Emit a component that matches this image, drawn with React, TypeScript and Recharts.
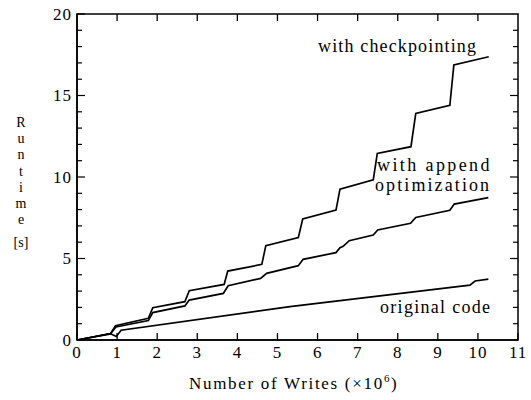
import React from "react";
import { LineChart, Line, XAxis, YAxis, ReferenceArea, ReferenceLine } from "recharts";

const checkpointX = [0, 0.84, 0.96, 1.78, 1.89, 2.69, 2.8, 3.67, 3.76, 4.61, 4.71, 5.52, 5.63, 6.46, 6.56, 7.39, 7.49, 8.33, 8.45, 9.3, 9.4, 10.27];
const checkpointY = [0, 0.4, 0.88, 1.33, 1.98, 2.35, 3.02, 3.41, 4.23, 4.64, 5.79, 6.28, 7.42, 7.97, 9.26, 9.82, 11.45, 11.86, 13.9, 14.4, 16.87, 17.38];

const appendX = [0, 0.84, 0.97, 1.78, 1.89, 2.69, 2.8, 3.65, 3.77, 4.58, 4.73, 5.52, 5.64, 6.46, 6.56, 6.64, 6.79, 7.39, 7.5, 8.32, 8.45, 9.3, 9.41, 10.26];
const appendY = [0, 0.4, 0.8, 1.19, 1.68, 2.09, 2.45, 2.86, 3.33, 3.78, 4.09, 4.56, 4.95, 5.36, 5.66, 5.75, 6.09, 6.44, 6.75, 7.16, 7.52, 7.96, 8.34, 8.73];

const originalX = [0, 0.84, 0.98, 1.1, 5.31, 9.8, 9.93, 10.26];
const originalY = [0, 0.38, 0.22, 0.6, 2.05, 3.37, 3.62, 3.74];

const xTicks = [0, 1, 2, 3, 4, 5, 6, 7, 8, 9, 10, 11];
const yTicks = [0, 1, 2, 3, 4, 5, 6, 7, 8, 9, 10, 11, 12, 13, 14, 15, 16, 17, 18, 19, 20];
const yLabelChars = ["R", "u", "n", "t", "i", "m", "e"];

const toPoints = (xs: number[], ys: number[]) => xs.map((x, i) => ({ x, y: ys[i] }));

const FONT = "'Liberation Serif'";

const BottomTick = (props: any) => {
  const { x, y, payload } = props;
  return (
    <g>
      <line x1={x} y1={y} x2={x} y2={y - 7} stroke="#000" strokeWidth={1.3} />
      <text x={x} y={y + 18} textAnchor="middle" fontFamily={FONT} fontSize={17} letterSpacing={0.8} fill="#000">
        {payload.value}
      </text>
    </g>
  );
};

const LeftTick = (props: any) => {
  const { x, y, payload } = props;
  const major = payload.value % 5 === 0;
  return (
    <g>
      <line x1={x} y1={y} x2={x + (major ? 8 : 5)} y2={y} stroke="#000" strokeWidth={1.2} />
      {major && (
        <text x={x - 5} y={y + 5.5} textAnchor="end" fontFamily={FONT} fontSize={17} letterSpacing={1} fill="#000">
          {payload.value}
        </text>
      )}
    </g>
  );
};

const note: React.CSSProperties = {
  position: "absolute",
  fontFamily: FONT,
  fontSize: 18,
  color: "#000",
  lineHeight: "20px",
  whiteSpace: "nowrap",
};

export default function App() {
  return (
    <div style={{ position: "absolute", left: 0, top: 0, width: 531, height: 400, background: "#fff" }}>
      <LineChart width={531} height={400} margin={{ top: 14, right: 13, left: 0, bottom: 0 }}>
        <XAxis
          xAxisId="b"
          dataKey="x"
          type="number"
          domain={[0, 11]}
          ticks={xTicks}
          height={60}
          axisLine={{ stroke: "#000", strokeWidth: 1.5 }}
          tickLine={false}
          tickSize={0}
          tickMargin={0}
          tick={<BottomTick />}
          interval={0}
          allowDataOverflow
        />
        <YAxis
          yAxisId="l"
          dataKey="y"
          type="number"
          domain={[0, 20]}
          ticks={yTicks}
          width={77}
          axisLine={{ stroke: "#000", strokeWidth: 1.5 }}
          tickLine={false}
          tickSize={0}
          tickMargin={0}
          tick={<LeftTick />}
          interval={0}
          allowDataOverflow
        />
        <ReferenceArea xAxisId="b" yAxisId="l" x1={0} x2={11} y1={0} y2={20} fill="none" stroke="#000" strokeWidth={1.5} ifOverflow="visible" />
        {xTicks.slice(1, -1).map((t) => (
          <ReferenceLine
            key={"t" + t}
            xAxisId="b"
            yAxisId="l"
            segment={[{ x: t, y: 20 }, { x: t, y: 19.57 }]}
            stroke="#000"
            strokeWidth={1.3}
          />
        ))}
        {yTicks.slice(1, -1).map((t) => (
          <ReferenceLine
            key={"r" + t}
            xAxisId="b"
            yAxisId="l"
            segment={[{ x: 11, y: t }, { x: t % 5 === 0 ? 10.8 : 10.875, y: t }]}
            stroke="#000"
            strokeWidth={1.2}
          />
        ))}
        <Line xAxisId="b" yAxisId="l" data={toPoints(checkpointX, checkpointY)} dataKey="y" stroke="#000" strokeWidth={1.7} dot={false} isAnimationActive={false} type="linear" />
        <Line xAxisId="b" yAxisId="l" data={toPoints(appendX, appendY)} dataKey="y" stroke="#000" strokeWidth={1.7} dot={false} isAnimationActive={false} type="linear" />
        <Line xAxisId="b" yAxisId="l" data={toPoints(originalX, originalY)} dataKey="y" stroke="#000" strokeWidth={1.7} dot={false} isAnimationActive={false} type="linear" />
      </LineChart>

      <div style={{ ...note, left: 318, top: 36, letterSpacing: 1.15 }}>with checkpointing</div>
      <div style={{ ...note, left: 377, top: 155, letterSpacing: 2.4 }}>with append</div>
      <div style={{ ...note, left: 375, top: 175, letterSpacing: 2.1 }}>optimization</div>
      <div style={{ ...note, left: 380, top: 297, letterSpacing: 1.3 }}>original code</div>
      <div style={{ ...note, left: 189, top: 374, fontSize: 17, letterSpacing: 1.7 }}>
        Number of Writes (×10<sup style={{ fontSize: 11, lineHeight: 0 }}>6</sup>)
      </div>
      {yLabelChars.map((c, i) => (
        <div key={i} style={{ ...note, left: 11, width: 20, textAlign: "center", top: 115 + i * 16.2, fontSize: 14, lineHeight: "16px" }}>
          {c}
        </div>
      ))}
      <div style={{ ...note, left: 11, width: 20, textAlign: "center", top: 235, fontSize: 14, lineHeight: "16px" }}>[s]</div>
    </div>
  );
}
